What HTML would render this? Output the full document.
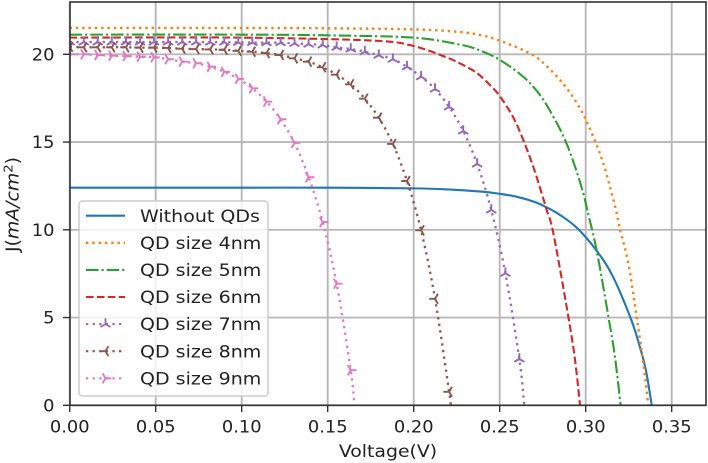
<!DOCTYPE html>
<html lang="en">
<head>
<meta charset="utf-8">
<title>J-V curves for QD sizes</title>
<style>
html,body{margin:0;padding:0;background:#fff;width:708px;height:463px;overflow:hidden}
svg{display:block;filter:blur(0.35px)}
text{font-family:"DejaVu Sans","Liberation Sans",sans-serif;fill:#222;font-size:17px}
</style>
</head>
<body>
<svg id="chart" xmlns="http://www.w3.org/2000/svg" width="708" height="463" viewBox="0 0 708 463">
<defs><clipPath id="plot-clip"><rect x="70" y="2" width="636" height="403.5"/></clipPath></defs>
<g id="grid"></g>
<g id="series" clip-path="url(#plot-clip)"></g>
<g id="axes"></g>
<text transform="translate(388,457) scale(1.11,1)" text-anchor="middle">Voltage(V)</text>
<text transform="translate(18.5,204.5) rotate(-90) scale(1.11,1.04)" text-anchor="middle">J(<tspan font-style="italic">mA</tspan><tspan font-style="italic">/cm</tspan><tspan dy="-6" font-size="12">2</tspan><tspan dy="6">)</tspan></text>
<g id="legend">
<rect x="79" y="201" width="189" height="195" rx="3.5" fill="#fff" fill-opacity="0.8" stroke="#ccc" stroke-width="1.5"/>
</g>
</svg>
<script>
const xTickValues = [0, 0.05, 0.10, 0.15, 0.20, 0.25, 0.30, 0.35];
const xTickLabels = ["0.00", "0.05", "0.10", "0.15", "0.20", "0.25", "0.30", "0.35"];
const yTickValues = [0, 5, 10, 15, 20];
const yTickLabels = ["0", "5", "10", "15", "20"];

const vBlue = [0, 0.05, 0.10, 0.15, 0.20, 0.22, 0.24, 0.25, 0.26, 0.27, 0.2768, 0.285, 0.295, 0.3064, 0.3155, 0.3258, 0.331, 0.335, 0.3384];
const jBlue = [12.4, 12.4, 12.4, 12.4, 12.36, 12.3, 12.17, 12.05, 11.88, 11.6, 11.3, 10.85, 10.1, 8.8, 7.4, 5.05, 3.5, 2.0, 0];

const vOrange = [0, 0.10, 0.15, 0.20, 0.227, 0.2395, 0.2502, 0.2686, 0.2792, 0.289, 0.2967, 0.3006, 0.306, 0.3102, 0.3141, 0.3176, 0.32, 0.3248, 0.3296, 0.3335, 0.3364];
const jOrange = [21.5, 21.5, 21.48, 21.42, 21.27, 21.08, 20.77, 20.0, 19.15, 18.06, 16.92, 16.16, 14.93, 13.79, 12.46, 11.13, 9.99, 8.09, 5.05, 2.39, 0];

const vGreen = [0, 0.10, 0.15, 0.20, 0.2269, 0.2385, 0.2502, 0.2637, 0.2734, 0.2812, 0.288, 0.2938, 0.2986, 0.3009, 0.3064, 0.3132, 0.317, 0.3203];
const jGreen = [21.12, 21.12, 21.08, 20.95, 20.55, 20.22, 19.67, 18.72, 17.68, 16.44, 15.12, 13.6, 12.08, 11.13, 8.81, 5.05, 2.77, 0];

const vRed = [0, 0.10, 0.1764, 0.20, 0.2192, 0.2269, 0.2345, 0.2386, 0.2443, 0.2502, 0.2579, 0.2637, 0.2695, 0.2744, 0.2773, 0.2812, 0.2899, 0.2938, 0.2967];
const jRed = [20.95, 20.95, 20.78, 20.47, 19.82, 19.48, 19.08, 18.79, 18.25, 17.6, 16.4, 15.12, 13.6, 12.08, 11.13, 9.8, 5.05, 2.58, 0];

const vPurple = [0, 0.0082, 0.0163, 0.0245, 0.0327, 0.0409, 0.0490, 0.0572, 0.0654, 0.0735, 0.0817, 0.0899, 0.0980, 0.1062, 0.1144, 0.1226, 0.1307, 0.1389, 0.1471, 0.1552, 0.1634, 0.1716, 0.1797, 0.1879, 0.1961, 0.2043, 0.2124, 0.2206, 0.2288, 0.2369, 0.2451, 0.2533, 0.2614];
const jPurple = [20.7, 20.7, 20.7, 20.7, 20.7, 20.7, 20.7, 20.7, 20.7, 20.7, 20.69, 20.69, 20.68, 20.67, 20.66, 20.66, 20.62, 20.58, 20.53, 20.4, 20.3, 20.15, 19.95, 19.72, 19.29, 18.72, 18.02, 17.0, 15.63, 13.75, 11.13, 7.52, 2.64];
const vPurpleEnd = 0.2643;

const vBrown = [0, 0.0082, 0.0163, 0.0245, 0.0327, 0.0409, 0.0490, 0.0572, 0.0654, 0.0735, 0.0817, 0.0899, 0.0980, 0.1062, 0.1144, 0.1226, 0.1307, 0.1389, 0.1471, 0.1552, 0.1634, 0.1716, 0.1797, 0.1879, 0.1961, 0.2043, 0.2124, 0.2206];
const jBrown = [20.42, 20.4, 20.4, 20.4, 20.4, 20.38, 20.38, 20.36, 20.32, 20.3, 20.28, 20.26, 20.2, 20.15, 20.07, 19.96, 19.77, 19.58, 19.26, 18.84, 18.29, 17.47, 16.39, 14.89, 12.78, 9.97, 6.07, 0.77];
const vBrownEnd = 0.2214;

const vPink = [0, 0.0082, 0.0163, 0.0245, 0.0327, 0.0409, 0.0490, 0.0572, 0.0654, 0.0735, 0.0817, 0.0899, 0.0980, 0.1062, 0.1144, 0.1226, 0.1307, 0.1389, 0.1471, 0.1552, 0.1634];
const jPink = [20.0, 20.0, 19.96, 19.92, 19.9, 19.86, 19.83, 19.72, 19.58, 19.49, 19.29, 19.0, 18.6, 18.06, 17.3, 16.3, 14.95, 13.0, 10.44, 6.93, 2.0];
const vPinkEnd = 0.1655;

const legendLabels = ["Without QDs", "QD size 4nm", "QD size 5nm", "QD size 6nm", "QD size 7nm", "QD size 8nm", "QD size 9nm"];

const SVGNS = "http://www.w3.org/2000/svg";
const xAxis = v => 69.7 + v * 1720;
const yAxis = j => 405.3 - j * 17.55;
const gridG = document.getElementById("grid");
const seriesG = document.getElementById("series");
const axesG = document.getElementById("axes");
const legendG = document.getElementById("legend");

function mk(parent, tag, attrs) {
  const el = document.createElementNS(SVGNS, tag);
  for (const k in attrs) el.setAttribute(k, attrs[k]);
  parent.appendChild(el);
  return el;
}
function smoothPath(xs, ys) {
  let d = "M" + xs[0].toFixed(2) + " " + ys[0].toFixed(2);
  for (let i = 0; i < xs.length - 1; i++) {
    const a = Math.max(i - 1, 0), b = Math.min(i + 2, xs.length - 1);
    const c1x = xs[i] + (xs[i + 1] - xs[a]) / 6, c1y = ys[i] + (ys[i + 1] - ys[a]) / 6;
    const c2x = xs[i + 1] - (xs[b] - xs[i]) / 6, c2y = ys[i + 1] - (ys[b] - ys[i]) / 6;
    d += "C" + c1x.toFixed(2) + " " + c1y.toFixed(2) + " " + c2x.toFixed(2) + " " + c2y.toFixed(2) + " " + xs[i + 1].toFixed(2) + " " + ys[i + 1].toFixed(2);
  }
  return d;
}
function triPath(cx, cy, baseDeg) {
  const r = 5.8;
  let d = "";
  [0, 120, 240].forEach(o => {
    const t = (baseDeg + o) * Math.PI / 180;
    d += "M" + cx.toFixed(2) + " " + cy.toFixed(2) + "L" + (cx + r * Math.cos(t)).toFixed(2) + " " + (cy - r * Math.sin(t)).toFixed(2);
  });
  return d;
}

xTickValues.forEach((v, i) => {
  const x = xAxis(v);
  const g = mk(gridG, "line", {x1: x, x2: x, y1: 2, y2: 405.3, stroke: "#b8b8b8", "stroke-width": 1.9});
  
  
  const t = mk(axesG, "line", {x1: x, x2: x, y1: 405.3, y2: 412, stroke: "#333", "stroke-width": 1.4});
  
  
  const l = mk(axesG, "text", {transform: "translate(" + x + ",432.3) scale(1.05,1)", "text-anchor": "middle"});
  
  
  l.textContent = xTickLabels[i];
});
yTickValues.forEach((j, i) => {
  const y = yAxis(j);
  const g = mk(gridG, "line", {x1: 70, x2: 706, y1: y, y2: y, stroke: "#b8b8b8", "stroke-width": 1.9});
  
  
  const t = mk(axesG, "line", {x1: 63, x2: 70, y1: y, y2: y, stroke: "#333", "stroke-width": 1.4});
  
  
  const l = mk(axesG, "text", {transform: "translate(54.5," + (y + 6.1) + ") scale(1.05,1)", "text-anchor": "end"});
  
  
  l.textContent = yTickLabels[i];
});

const frame = mk(axesG, "rect", {x: 70, y: 2, width: 636, height: 403.3, fill: "none", stroke: "#333", "stroke-width": 1.6});



function drawLine(parent, xs, ys, color, dash, width) {
  const p = mk(parent, "path", {d: smoothPath(xs, ys), fill: "none", stroke: color, "stroke-width": width, "stroke-dasharray": dash});
  
  
  return p;
}
function drawMarkers(parent, xs, ys, color, deg) {
  let d = "";
  xs.forEach((x, i) => { d += triPath(x, ys[i], deg); });
  const p = mk(parent, "path", {d: d, fill: "none", stroke: color, "stroke-width": 1.9});
  
  
}

drawLine(seriesG, vBlue.map(xAxis), jBlue.map(yAxis), "#1f77b4", "none", 2.1);
drawLine(seriesG, vOrange.map(xAxis), jOrange.map(yAxis), "#ff7f0e", "2.4 3.9", 2.4);
drawLine(seriesG, vGreen.map(xAxis), jGreen.map(yAxis), "#2ca02c", "12.5 3 2.2 3", 2.1);
drawLine(seriesG, vRed.map(xAxis), jRed.map(yAxis), "#d62728", "7.6 3.3", 2.1);

const markerSeries = [
  [vPurple, jPurple, vPurpleEnd, "#9467bd", 90],
  [vBrown, jBrown, vBrownEnd, "#8c564b", 180],
  [vPink, jPink, vPinkEnd, "#e377c2", 0]
];
markerSeries.forEach(s => {
  const xs = s[0].map(xAxis), ys = s[1].map(yAxis);
  drawLine(seriesG, xs.concat([xAxis(s[2])]), ys.concat([yAxis(0)]), s[3], "2.3 4.3", 2.3);
  drawMarkers(seriesG, xs, ys, s[3], s[4]);
});

const legendStyles = [
  ["#1f77b4", "none", 2.1, null],
  ["#ff7f0e", "2.4 3.9", 2.4, null],
  ["#2ca02c", "12.5 3 2.2 3", 2.1, null],
  ["#d62728", "7.6 3.3", 2.1, null],
  ["#9467bd", "2.3 4.3", 2.1, 90],
  ["#8c564b", "2.3 4.3", 2.1, 180],
  ["#e377c2", "2.3 4.3", 2.1, 0]
];
legendLabels.forEach((label, i) => {
  const y = 215.7 + i * 27.1;
  const st = legendStyles[i];
  const ln = mk(legendG, "line", {x1: 86, x2: 125, y1: y, y2: y, stroke: st[0], "stroke-width": st[2], "stroke-dasharray": st[1]});
  
  
  if (st[3] !== null) {
    const m = mk(legendG, "path", {d: triPath(105.5, y, st[3]), fill: "none", stroke: st[0], "stroke-width": 1.8});
    
    
  }
  const t = mk(legendG, "text", {transform: "translate(140," + (y + 6.1) + ") scale(1.12,1)"});
  
  
  t.textContent = label;
});
</script>
</body>
</html>
